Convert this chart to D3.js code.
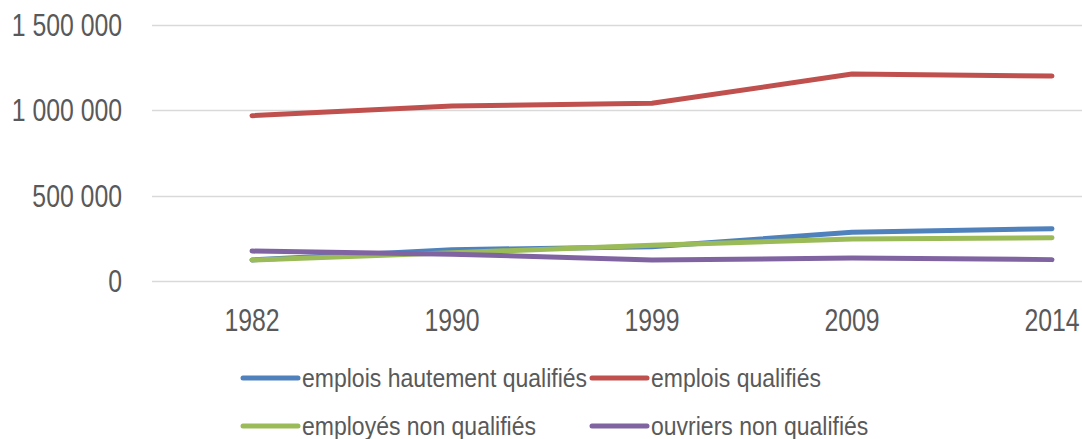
<!doctype html>
<html lang="fr">
<head>
    <meta charset="UTF-8">
    <title>Emplois par qualification</title>
    <style>
        body { margin: 0; background: #fff; }
        text { font-family: 'Liberation Sans', Arial, sans-serif; fill: #595959; }
    </style>
</head>
<body>
<script src="https://cdn.jsdelivr.net/npm/d3@7"></script>
<script>

    const years = ['1982', '1990', '1999', '2009', '2014']
    const yTicks = [0, 500000, 1000000, 1500000]

    const hautementQualifies = [123000, 183000, 200000, 285000, 306000]
    const qualifies = [967000, 1023000, 1039000, 1210000, 1199000]
    const employesNonQualifies = [123000, 165000, 209000, 246000, 253000]
    const ouvriersNonQualifies = [175000, 157000, 123000, 134000, 125000]

    const seriesNames = ['emplois hautement qualifiés', 'emplois qualifiés', 'employés non qualifiés', 'ouvriers non qualifiés']
    const seriesValues = [hautementQualifies, qualifies, employesNonQualifies, ouvriersNonQualifies]
    const colors = ['#4F81BD', '#C0504D', '#9BBB59', '#8064A2']

    const width = 1082
    const height = 439

    // no narrow font installed, so squeeze the text horizontally
    const axisSquash = 0.8
    const legendSquash = 0.92

    const svg = d3.select('body')
        .append('svg')
        .attr('width', width)
        .attr('height', height)

    const x = d3.scaleBand()
        .domain(years)
        .range([152, 1152])

    const y = d3.scaleLinear()
        .domain([0, 1500000])
        .range([281, 24.5])

    const fmt = v => d3.format(',')(v).replace(/,/g, ' ')

    // gridlines + y labels
    svg.selectAll('.grid')
        .data(yTicks)
        .enter()
        .append('line')
        .attr('x1', 152)
        .attr('x2', width)
        .attr('y1', d => Math.round(y(d)) + 0.5)
        .attr('y2', d => Math.round(y(d)) + 0.5)
        .attr('stroke', '#d9d9d9')
        .attr('stroke-width', 1.5)

    svg.selectAll('.ylab')
        .data(yTicks)
        .enter()
        .append('text')
        .attr('transform', d => `translate(122, ${y(d)}) scale(${axisSquash}, 1)`)
        .attr('dy', '0.36em')
        .attr('text-anchor', 'end')
        .style('font-size', '31px')
        .text(fmt)

    // x labels
    svg.selectAll('.xlab')
        .data(years)
        .enter()
        .append('text')
        .attr('transform', d => `translate(${x(d) + x.bandwidth() / 2}, 320) scale(${axisSquash}, 1)`)
        .attr('dy', '0.36em')
        .attr('text-anchor', 'middle')
        .style('font-size', '31px')
        .text(d => d)

    // lines
    const line = d3.line()
        .x((d, i) => x(years[i]) + x.bandwidth() / 2)
        .y(d => y(d))

    svg.selectAll('.series')
        .data(seriesValues)
        .enter()
        .append('path')
        .attr('d', line)
        .attr('fill', 'none')
        .attr('stroke', (d, i) => colors[i])
        .attr('stroke-width', 5)
        .attr('stroke-linecap', 'round')
        .attr('stroke-linejoin', 'round')

    // legend
    const legendPos = [[243, 378], [592, 378], [243, 426], [592, 426]]

    const legend = svg.selectAll('.legend')
        .data(seriesNames)
        .enter()
        .append('g')
        .attr('transform', (d, i) => `translate(${legendPos[i][0]}, ${legendPos[i][1]})`)

    legend.append('line')
        .attr('x1', 0)
        .attr('x2', 55)
        .attr('stroke', (d, i) => colors[i])
        .attr('stroke-width', 5)
        .attr('stroke-linecap', 'round')

    legend.append('text')
        .attr('transform', `translate(59, 0) scale(${legendSquash}, 1)`)
        .attr('dy', '0.36em')
        .style('font-size', '25px')
        .text(d => d)

</script>
</body>
</html>
